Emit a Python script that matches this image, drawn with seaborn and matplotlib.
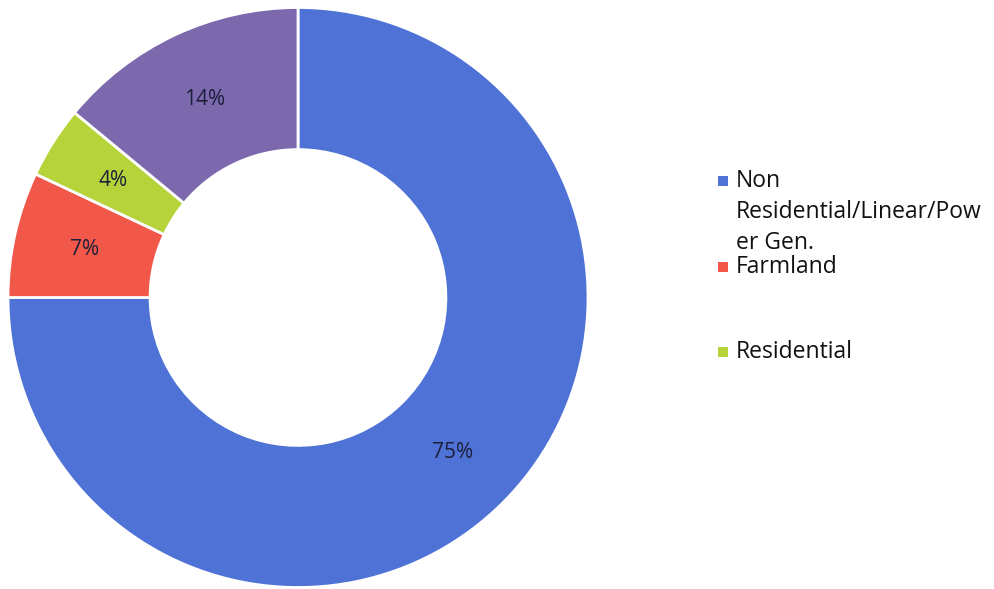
import matplotlib
matplotlib.use("Agg")
import matplotlib.pyplot as plt
from matplotlib.patches import Rectangle
import seaborn as sns

# Share of land use by category
categories = ["Non\nResidential/Linear/Pow\ner Gen.", "Farmland", "Residential", "Other"]
shares = [75, 7, 4, 14]
colors = ["#4e72d6", "#f2584a", "#b6d43a", "#7b68ad"]

sns.set_theme(style="white")
plt.rcParams["font.family"] = ["Open Sans", "DejaVu Sans"]

W, H = 995, 589
fig = plt.figure(figsize=(W / 100, H / 100), dpi=100)
fig.patch.set_facecolor("white")

cx, cy, r = 298, 297.5, 290
pad = 1.02
ax = fig.add_axes([(cx - r * pad) / W, (H - cy - r * pad) / H, 2 * r * pad / W, 2 * r * pad / H])

ring = 0.49
wedges, texts, autotexts = ax.pie(
    shares,
    colors=colors,
    startangle=90,
    counterclock=False,
    radius=1.0,
    autopct="%d%%",
    pctdistance=1 - ring / 2,
    wedgeprops=dict(width=ring, edgecolor="white", linewidth=2),
    textprops=dict(fontsize=15, color="#1c1f3a"),
)
ax.set_xlim(-pad, pad)
ax.set_ylim(-pad, pad)
ax.set_aspect("equal")
ax.axis("off")

# Legend for the first three categories: square key on the first text line
legend_rows = [(0, 181), (1, 267), (2, 352)]
line_step = 31
key = 10
for idx, ypix in legend_rows:
    fig.add_artist(Rectangle(((718) / W, 1 - (ypix + key / 2) / H), key / W, key / H,
                             transform=fig.transFigure, facecolor=colors[idx],
                             edgecolor="none"))
    for k, line in enumerate(categories[idx].split("\n")):
        fig.text(736 / W, 1 - (ypix + k * line_step) / H, line,
                 fontsize=16.5, color="#111111", va="center", ha="left")

fig.savefig("out.png", dpi=100, facecolor="white")
